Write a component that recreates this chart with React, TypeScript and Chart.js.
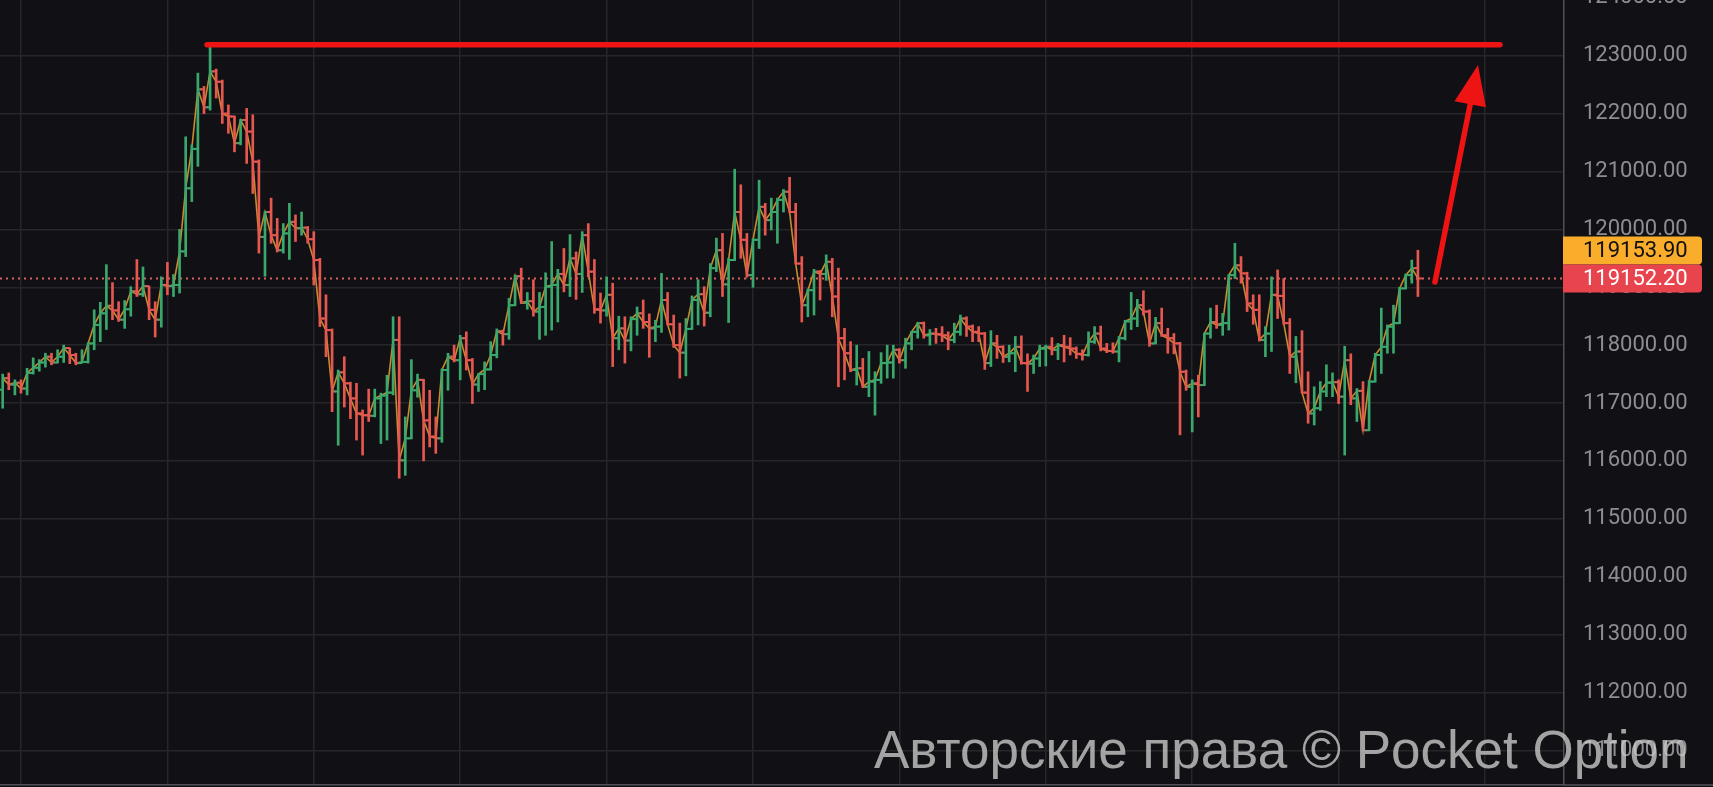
import React, { useEffect, useRef } from 'react';
import { Chart, registerables } from 'chart.js';

Chart.register(...registerables);

// ---------- data ----------
const OPEN = [
  117230, 117430, 117320, 117350, 117250, 117520, 117610, 117700, 117800, 117700,
  117800, 117950, 117830, 117690, 117710, 118030, 118350, 118550, 118680, 118600,
  118440, 118620, 118930, 118880, 119020, 118610, 118440, 119040, 119020, 119040,
  119620, 120710, 121390, 122420, 122110, 122730, 122550, 122000, 121950, 121490,
  121890, 121690, 121170, 119870, 120300, 119900, 119640, 119930, 120130, 120020,
  120030, 119830, 119470, 118460, 118260, 117200, 117530, 117340, 117080, 116820,
  116790, 116780, 117080, 117130, 117180, 118090, 116010, 116390, 117220, 117400,
  116700, 116420, 116390, 117570, 117800, 117740, 118120, 117740, 117320, 117500,
  117580, 117830, 118240, 118190, 118690, 119190, 118730, 118760, 118580, 118660,
  119010, 119040, 119230, 119040, 119500, 119230, 119900, 119270, 118620, 118600,
  118870, 118120, 118290, 118080, 118450, 118550, 118400, 118290, 118320, 118780,
  118360, 118000, 117870, 118280, 118780, 118880, 118560, 119330, 119640, 119050,
  119470, 120300, 119820, 119210, 119820, 120390, 120160, 120300, 120510, 120650,
  120300, 119410, 118690, 118950, 119270, 119230, 119440, 118840, 118120, 117860,
  117570, 117600, 117280, 117370, 117400, 117690, 117700, 117920, 117740, 118030,
  118230, 118380, 118170, 118200, 118190, 118170, 118090, 118230, 118460, 118320,
  118230, 118200, 117690, 118030, 117970, 117800, 117860, 117970, 117690, 117680,
  117770, 117940, 117970, 117920, 118000, 117970, 117940, 117850, 117830, 118060,
  118200, 117940, 117900, 117890, 118120, 118410, 118460, 118690, 118580, 118030,
  118380, 118170, 118120, 118030, 117540, 117280, 117340, 117310, 118200, 118400,
  118350, 118380, 119210, 119380, 119240, 118720, 118610, 118090, 118200, 118870,
  118850, 118380, 117800, 117890, 117180, 116820, 116910, 117200, 117350, 117360,
  117110, 117740, 117080, 117210, 116530, 117370, 117830, 117970, 118320, 118380,
  118980, 119210, 119330,
];
const HIGH = [
  117500, 117520, 117400, 117400, 117600, 117780, 117750, 117860, 117860, 117920,
  118000, 117950, 117860, 117920, 118040, 118610, 118740, 119390, 119080, 118750,
  118770, 119010, 119480, 119350, 119020, 118750, 119180, 119430, 119220, 120000,
  121600, 121460, 122700, 122470, 123220, 122770, 122580, 122150, 121960, 121900,
  122090, 121980, 121200, 120310, 120540, 120190, 120100, 120450, 120250, 120300,
  120050, 119960, 119500, 118870, 118280, 117570, 117800, 117360, 117340, 116880,
  117240, 117240, 117170, 117480, 118490, 118490, 116760, 117750, 117500, 117410,
  117220, 116760, 117590, 117860, 118000, 118170, 118230, 117770, 117510, 117710,
  118060, 118280, 118260, 118810, 119210, 119330, 118910, 119130, 118910, 119250,
  119790, 119310, 119670, 119910, 119610, 119960, 120100, 119480, 118900, 119180,
  119070, 118500, 118490, 118490, 118660, 118780, 118540, 118430, 119240, 118910,
  118520, 118380, 118460, 118850, 119130, 119010, 119410, 119850, 119930, 119500,
  121040, 120770, 119930, 119840, 120850, 120450, 120540, 120540, 120690, 120900,
  120450, 119530, 118970, 119310, 119290, 119560, 119500, 119330, 118290, 118060,
  118000, 117770, 117890, 117540, 117870, 118000, 118000, 117940, 118120, 118240,
  118390, 118400, 118270, 118290, 118320, 118230, 118380, 118520, 118490, 118350,
  118320, 118220, 118250, 118170, 117990, 118000, 118150, 118160, 117850, 117830,
  118000, 118000, 118130, 118030, 118170, 118130, 117970, 117920, 118230, 118320,
  118330, 118030, 118040, 118150, 118430, 118910, 118790, 118940, 118610, 118480,
  118640, 118290, 118200, 118050, 117570, 117400, 117480, 118210, 118640, 118690,
  118550, 119220, 119760, 119530, 119260, 118870, 118870, 118320, 119180, 119300,
  119150, 118460, 118150, 118250, 117540, 117280, 117370, 117660, 117520, 117400,
  117980, 117850, 117250, 117370, 117390, 117860, 118640, 118350, 118690, 119000,
  119230, 119470, 119640,
];
const LOW = [
  116910, 117230, 117140, 117170, 117140, 117500, 117550, 117620, 117660, 117690,
  117700, 117680, 117660, 117690, 117690, 117920, 118060, 118270, 118440, 118410,
  118290, 118500, 118840, 118840, 118440, 118140, 118310, 118870, 118840, 118900,
  119530, 120480, 121090, 122000, 122060, 122270, 121830, 121660, 121340, 121460,
  121140, 120620, 119590, 119190, 119760, 119610, 119590, 119480, 119790, 119900,
  119760, 119040, 118320, 117800, 116850, 116270, 116930, 116730, 116360, 116100,
  116680, 116760, 116300, 116360, 117140, 115700, 115750, 116380, 117100, 116000,
  116240, 116130, 116320, 117220, 117710, 117400, 117570, 116990, 117200, 117230,
  117570, 117780, 118000, 118100, 118680, 118720, 118620, 118500, 118100, 118170,
  118260, 118400, 118920, 118840, 118790, 118910, 119180, 118550, 118380, 118500,
  117630, 117920, 117690, 117900, 118170, 118290, 117790, 118060, 118220, 118350,
  117960, 117430, 117470, 118270, 118350, 118330, 118490, 119270, 118840, 118390,
  119460, 119500, 119180, 119000, 119670, 119900, 119990, 119760, 120300, 120290,
  119400, 118400, 118490, 118520, 118780, 119120, 118490, 117280, 117400, 117540,
  117310, 117270, 117110, 116790, 117340, 117430, 117430, 117690, 117600, 117920,
  118120, 118120, 118000, 118030, 118060, 117920, 118040, 118170, 118150, 118060,
  118060, 117580, 117630, 117770, 117700, 117710, 117540, 117670, 117200, 117510,
  117630, 117640, 117830, 117750, 117710, 117830, 117770, 117740, 117810, 118030,
  117900, 117870, 117860, 117710, 118090, 118270, 118320, 118520, 117980, 118020,
  118150, 117860, 117850, 116450, 117220, 116500, 116760, 117300, 118120, 118290,
  118170, 118260, 119150, 119070, 118580, 118360, 118070, 117800, 117890, 118460,
  118360, 117510, 117350, 117170, 116650, 116620, 116870, 117110, 117110, 116990,
  116100, 116970, 116680, 116520, 116520, 117360, 117510, 117860, 117860, 118370,
  118970, 119070, 118840,
];
const CLOSE = [
  117430, 117320, 117350, 117250, 117520, 117610, 117700, 117800, 117700, 117800,
  117950, 117830, 117690, 117710, 118030, 118350, 118550, 118680, 118600, 118440,
  118620, 118930, 118880, 119020, 118610, 118440, 119040, 119020, 119040, 119620,
  120710, 121390, 122420, 122110, 122730, 122550, 122000, 121950, 121490, 121890,
  121690, 121170, 119870, 120300, 119900, 119640, 119930, 120130, 120020, 120030,
  119830, 119470, 118460, 118260, 117200, 117530, 117340, 117080, 116820, 116790,
  116780, 117080, 117130, 117180, 118090, 116010, 116390, 117220, 117400, 116700,
  116420, 116390, 117570, 117800, 117740, 118120, 117740, 117320, 117500, 117580,
  117830, 118240, 118190, 118690, 119190, 118730, 118760, 118580, 118660, 119010,
  119040, 119230, 119040, 119500, 119230, 119900, 119270, 118620, 118600, 118870,
  118120, 118290, 118080, 118450, 118550, 118400, 118290, 118320, 118780, 118360,
  118000, 117870, 118280, 118780, 118880, 118560, 119330, 119640, 119050, 119470,
  120300, 119820, 119210, 119820, 120390, 120160, 120300, 120510, 120650, 120300,
  119410, 118690, 118950, 119270, 119230, 119440, 118840, 118120, 117860, 117570,
  117600, 117280, 117370, 117400, 117690, 117700, 117920, 117740, 118030, 118230,
  118380, 118170, 118200, 118190, 118170, 118090, 118230, 118460, 118320, 118230,
  118200, 117690, 118030, 117970, 117800, 117860, 117970, 117690, 117680, 117770,
  117940, 117970, 117920, 118000, 117970, 117940, 117850, 117830, 118060, 118200,
  117940, 117900, 117890, 118120, 118410, 118460, 118690, 118580, 118030, 118380,
  118170, 118120, 118030, 117540, 117280, 117340, 117310, 118200, 118400, 118350,
  118380, 119210, 119380, 119240, 118720, 118610, 118090, 118200, 118870, 118850,
  118380, 117800, 117890, 117180, 116820, 116910, 117200, 117350, 117360, 117110,
  117740, 117080, 117210, 116530, 117370, 117830, 117970, 118320, 118380, 118980,
  119210, 119330, 119152.2,
];

const LAST_PRICE = 119152.2;
const ASK_PRICE = 119153.9;
const Y_MIN = 110400;
const Y_MAX = 125000;
const Y_TICKS = [
  111000, 112000, 113000, 114000, 115000, 116000, 117000,
  118000, 119000, 120000, 121000, 122000, 123000, 124000,
];
const X_MIN = -0.44;
const X_MAX = 255.95;
const X_GRID = [3, 27, 51, 75, 99, 123, 147, 171, 195, 219, 243];

// drawn annotations (data units: bar index, price)
const LEVEL_PRICE = 123190;
const LEVEL_FROM = 33.5;
const LEVEL_TO = 245.45;
const ARROW_START = { x: 234.8, y: 119090 };
const ARROW_END = { x: 241.85, y: 122840 };

const WATERMARK = 'Авторские права © Pocket Option';

// ---------- styles ----------
const BG = '#111115';
const GRID = '#26262b';
const AXIS = '#505056';
const LABEL = '#8d8d92';
const UP = '#3aa86c';
const DOWN = '#e5574f';
const CLOSE_LINE = '#c98b2d';
const PRICE_DOT = '#d9625e';
const ANNOT = '#ee1414';
const ASK_BOX = '#f9ad2a';
const BID_BOX = '#e8444d';
const TICK_OFF = 0.33;

const annotations = {
  id: 'annotations',
  beforeDatasetsDraw(chart: any) {
    const { ctx, chartArea, scales } = chart;
    const y = scales.y.getPixelForValue(LAST_PRICE);
    ctx.save();
    ctx.strokeStyle = PRICE_DOT;
    ctx.lineWidth = 2;
    ctx.setLineDash([2, 4]);
    ctx.beginPath();
    ctx.moveTo(chartArea.left, y);
    ctx.lineTo(chartArea.right, y);
    ctx.stroke();
    ctx.restore();
  },
  afterDraw(chart: any) {
    const { ctx, scales, chartArea, width } = chart;
    const xs = scales.x;
    const ys = scales.y;
    ctx.save();
    // time-axis top border continues under the price axis
    ctx.strokeStyle = AXIS;
    ctx.lineWidth = 1.5;
    ctx.beginPath();
    ctx.moveTo(chartArea.right, chartArea.bottom);
    ctx.lineTo(width, chartArea.bottom);
    ctx.stroke();
    // horizontal level
    ctx.strokeStyle = ANNOT;
    ctx.lineWidth = 5.5;
    ctx.lineCap = 'round';
    const ly = ys.getPixelForValue(LEVEL_PRICE);
    ctx.beginPath();
    ctx.moveTo(xs.getPixelForValue(LEVEL_FROM), ly);
    ctx.lineTo(xs.getPixelForValue(LEVEL_TO), ly);
    ctx.stroke();
    // arrow
    const x0 = xs.getPixelForValue(ARROW_START.x);
    const y0 = ys.getPixelForValue(ARROW_START.y);
    const x1 = xs.getPixelForValue(ARROW_END.x);
    const y1 = ys.getPixelForValue(ARROW_END.y);
    const ang = Math.atan2(y1 - y0, x1 - x0);
    const headLen = 40;
    const headHalf = 16;
    const bx = x1 - Math.cos(ang) * headLen;
    const by = y1 - Math.sin(ang) * headLen;
    ctx.lineWidth = 5.5;
    ctx.beginPath();
    ctx.moveTo(x0, y0);
    ctx.lineTo(bx + Math.cos(ang) * 4, by + Math.sin(ang) * 4);
    ctx.stroke();
    ctx.fillStyle = ANNOT;
    ctx.beginPath();
    ctx.moveTo(x1, y1);
    ctx.lineTo(bx + Math.sin(ang) * headHalf, by - Math.cos(ang) * headHalf);
    ctx.lineTo(bx - Math.sin(ang) * headHalf, by + Math.cos(ang) * headHalf);
    ctx.closePath();
    ctx.fill();
    // price boxes on the axis
    const py = ys.getPixelForValue(LAST_PRICE);
    const h = 28;
    const bxl = ys.left - 1;
    const w = 139;
    const drawBox = (top: number, color: string, text: string, tc: string) => {
      ctx.fillStyle = color;
      ctx.beginPath();
      (ctx as any).roundRect(bxl, top, w, h, [0, 4, 4, 0]);
      ctx.fill();
      ctx.fillStyle = tc;
      ctx.font = '22px Roboto';
      ctx.textAlign = 'left';
      ctx.textBaseline = 'middle';
      ctx.fillText(text, ys.left + 19, top + h / 2 + 1);
    };
    drawBox(py - h / 2 - h, ASK_BOX, ASK_PRICE.toFixed(2), '#111111');
    drawBox(py - h / 2, BID_BOX, LAST_PRICE.toFixed(2), '#ffffff');
    ctx.restore();
  },
};

export default function App() {
  const ref = useRef<HTMLCanvasElement | null>(null);
  useEffect(() => {
    if (!ref.current) return;
    const idx = CLOSE.map((_, i) => i);
    const colors = idx.map((i) => (CLOSE[i] >= OPEN[i] ? UP : DOWN));
    const chart = new Chart(ref.current, {
      type: 'bar',
      data: {
        datasets: [
          {
            type: 'line',
            label: 'open',
            data: idx.map((i) => ({ x: i - TICK_OFF, y: OPEN[i] })),
            showLine: false,
            pointStyle: 'line',
            pointRadius: 2,
            pointHoverRadius: 2,
            pointBorderWidth: 2,
            pointBorderColor: colors,
            order: 0,
          } as any,
          {
            type: 'line',
            label: 'close tick',
            data: idx.map((i) => ({ x: i + TICK_OFF, y: CLOSE[i] })),
            showLine: false,
            pointStyle: 'line',
            pointRadius: 2,
            pointHoverRadius: 2,
            pointBorderWidth: 2,
            pointBorderColor: colors,
            order: 1,
          } as any,
          {
            type: 'bar',
            label: 'range',
            data: idx.map((i) => ({ x: i, y: [LOW[i], HIGH[i]] })),
            backgroundColor: colors,
            barThickness: 2,
            grouped: false,
            order: 2,
          } as any,
          {
            type: 'line',
            label: 'close',
            data: idx.map((i) => ({ x: i, y: CLOSE[i] })),
            borderColor: CLOSE_LINE,
            borderWidth: 1.6,
            pointRadius: 0,
            tension: 0,
            order: 3,
          } as any,
        ],
      },
      options: {
        animation: false,
        responsive: true,
        maintainAspectRatio: false,
        devicePixelRatio: 1,
        events: [],
        layout: { padding: 0, autoPadding: false },
        plugins: { legend: { display: false }, tooltip: { enabled: false } },
        scales: {
          x: {
            type: 'linear',
            min: X_MIN,
            max: X_MAX,
            offset: false,
            afterBuildTicks: (s: any) => {
              s.ticks = X_GRID.map((v) => ({ value: v }));
            },
            afterFit: (s: any) => {
              s.height = 35;
            },
            ticks: { display: false },
            grid: { color: GRID, lineWidth: 1.5, drawTicks: false, offset: false },
            border: { display: true, color: AXIS, width: 1.5 },
          },
          y: {
            type: 'linear',
            position: 'right',
            min: Y_MIN,
            max: Y_MAX,
            afterBuildTicks: (s: any) => {
              s.ticks = Y_TICKS.map((v) => ({ value: v }));
            },
            afterFit: (s: any) => {
              s.width = 149;
              s.paddingTop = 0;
              s.paddingBottom = 0;
            },
            ticks: {
              color: LABEL,
              padding: 19,
              font: { family: 'Roboto', size: 22 },
              callback: (v: any) => Number(v).toFixed(2),
            },
            grid: { color: GRID, lineWidth: 1.5, drawTicks: false },
            border: { color: AXIS, width: 1.5 },
          },
        },
      } as any,
      plugins: [annotations],
    });
    return () => chart.destroy();
  }, []);

  return (
    <div
      style={{
        position: 'fixed',
        left: 0,
        top: 0,
        width: 1713,
        height: 787,
        overflow: 'hidden',
        background: BG,
      }}
    >
      <div style={{ position: 'absolute', left: 0, top: -60, width: 1713, height: 880 }}>
        <canvas ref={ref} />
      </div>
      <div
        style={{
          position: 'absolute',
          left: 874,
          top: 723,
          fontFamily: '"Liberation Sans", Arial, sans-serif',
          fontSize: 53,
          lineHeight: '53px',
          whiteSpace: 'nowrap',
          color: 'rgba(205,205,205,0.78)',
          pointerEvents: 'none',
        }}
      >
        {WATERMARK}
      </div>
    </div>
  );
}
